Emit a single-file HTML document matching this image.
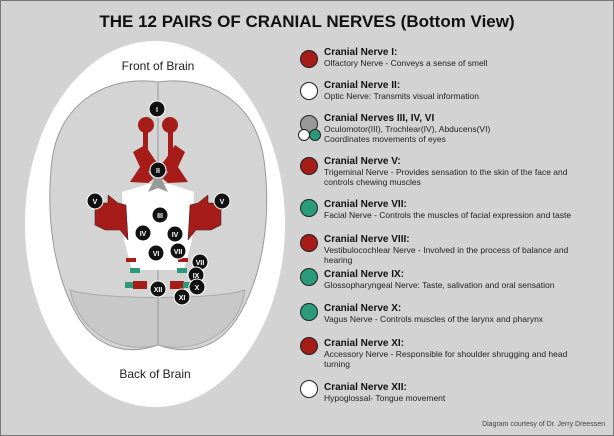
<!DOCTYPE html><html><head><style>
body{margin:0;width:614px;height:436px;overflow:hidden;background:#d3d3d3;font-family:"Liberation Sans",sans-serif}
.f{position:absolute;left:0;top:0;width:612px;height:434px;border:1px solid #777;box-sizing:content-box}
.t{position:absolute;left:0;width:614px;top:12px;text-align:center;font-weight:bold;font-size:17px;color:#111}
.it{position:absolute;left:324px;font-size:8.5px;color:#222;line-height:10px;white-space:nowrap}
.it b{font-size:10px;color:#111;display:block;line-height:11px}
.c{position:absolute;width:18px;height:18px;border-radius:50%;border:1px solid #222;box-sizing:border-box}
.r{background:#a51c18}.w{background:#fff}.g{background:#2a9a7b}
</style></head><body><div class="f"></div>
<div class="t">THE 12 PAIRS OF CRANIAL NERVES (Bottom View)</div>
<svg style="position:absolute;left:0;top:0" width="614" height="436" font-family="Liberation Sans" >
<ellipse cx="155" cy="224" rx="130" ry="183" fill="#fff"/>
<path d="M158 82 C110 75 60 100 52 160 C45 220 55 280 80 320 C100 350 130 355 158 345 C186 355 216 350 236 320 C262 280 272 220 264 160 C256 100 206 75 158 82Z" fill="#d4d4d4" stroke="#999"/>
<path d="M70 290 C100 300 215 300 245 290 C240 330 200 355 158 345 C116 355 78 330 70 290Z" fill="#c8c8c8" stroke="#aaa"/>
<line x1="158" y1="82" x2="158" y2="345" stroke="#999"/>
<path d="M122 192 L148 184 L170 184 L194 192 L192 240 L184 270 L132 270 L124 240 Z" fill="#fff"/>
<path d="M145 145 L155 160 L160 165 L165 160 L175 145 L185 152 L178 167 L188 182 L168 183 L158 175 L148 183 L130 182 L140 167 L133 152Z" fill="#a51c18"/>
<path d="M148 172 L158 162 L168 172 L162 180 L168 192 L158 188 L148 192 L154 180Z" fill="#999"/>
<circle cx="146" cy="125" r="8" fill="#a51c18"/><circle cx="170" cy="125" r="8" fill="#a51c18"/>
<rect x="143" y="125" width="5" height="45" fill="#a51c18"/><rect x="168" y="125" width="5" height="45" fill="#a51c18"/>
<path d="M95 203 L108 203 L108 195 L118 203 L126 205 L128 240 L120 230 L105 230 L95 225Z" fill="#a51c18" stroke="#222" stroke-width=".5"/>
<path d="M221 203 L208 203 L208 195 L198 203 L190 205 L188 240 L196 230 L211 230 L221 225Z" fill="#a51c18" stroke="#222" stroke-width=".5"/>
<rect x="125" y="282" width="10" height="6" fill="#2a9a7b"/><rect x="133" y="281" width="14" height="8" fill="#a51c18"/>
<rect x="170" y="281" width="14" height="8" fill="#a51c18"/><rect x="183" y="282" width="10" height="6" fill="#2a9a7b"/>
<rect x="130" y="268" width="10" height="5" fill="#2a9a7b"/><rect x="177" y="268" width="10" height="5" fill="#2a9a7b"/>
<rect x="126" y="258" width="10" height="4" fill="#a51c18"/><rect x="178" y="258" width="10" height="4" fill="#a51c18"/>
<g fill="#111" stroke="#fff" stroke-width="1"><circle cx="157" cy="109" r="8"/><circle cx="158" cy="170" r="8"/><circle cx="95" cy="201" r="8"/><circle cx="222" cy="201" r="8"/><circle cx="160" cy="215" r="8"/><circle cx="143" cy="233" r="8"/><circle cx="175" cy="234" r="8"/><circle cx="156" cy="253" r="8"/><circle cx="178" cy="251" r="8"/><circle cx="200" cy="262" r="8"/><circle cx="196" cy="275" r="8"/><circle cx="197" cy="287" r="8"/><circle cx="182" cy="297" r="8"/><circle cx="158" cy="289" r="8"/></g>
<g fill="#fff" font-size="7" font-weight="bold" text-anchor="middle"><text x="157" y="112">I</text><text x="158" y="173">II</text><text x="95" y="204">V</text><text x="222" y="204">V</text><text x="160" y="218">III</text><text x="143" y="236">IV</text><text x="175" y="237">IV</text><text x="156" y="256">VI</text><text x="178" y="254">VII</text><text x="200" y="265">VII</text><text x="196" y="278">IX</text><text x="197" y="290">X</text><text x="182" y="300">XI</text><text x="158" y="292">XII</text></g>
<text x="158" y="70" font-size="12" text-anchor="middle" fill="#222">Front of Brain</text>
<text x="155" y="378" font-size="12" text-anchor="middle" fill="#222">Back of Brain</text>
<text x="605" y="426" font-size="7" text-anchor="end" fill="#444">Diagram courtesy of Dr. Jerry Dreessen</text>
</svg>
<div class="c r" style="left:300px;top:50px"></div>
<div class="c w" style="left:300px;top:82px"></div>
<div class="c" style="left:300px;top:115px;background:#999"></div>
<div class="c w" style="left:298px;top:129px;width:12px;height:12px"></div>
<div class="c g" style="left:309px;top:129px;width:12px;height:12px"></div>
<div class="c r" style="left:300px;top:157px"></div>
<div class="c g" style="left:300px;top:199px"></div>
<div class="c r" style="left:300px;top:234px"></div>
<div class="c g" style="left:300px;top:268px"></div>
<div class="c g" style="left:300px;top:303px"></div>
<div class="c r" style="left:300px;top:337px"></div>
<div class="c w" style="left:300px;top:380px"></div>
<div class="it" style="top:47px"><b>Cranial Nerve I:</b>Olfactory Nerve - Conveys a sense of smell</div>
<div class="it" style="top:80px"><b>Cranial Nerve II:</b>Optic Nerve: Transmits visual information</div>
<div class="it" style="top:113px"><b>Cranial Nerves III, IV, VI</b>Oculomotor(III), Trochlear(IV), Abducens(VI)<br>Coordinates movements of eyes</div>
<div class="it" style="top:156px"><b>Cranial Nerve V:</b>Trigeminal Nerve - Provides sensation to the skin of the face and<br>controls chewing muscles</div>
<div class="it" style="top:199px"><b>Cranial Nerve VII:</b>Facial Nerve - Controls the muscles of facial expression and taste</div>
<div class="it" style="top:234px"><b>Cranial Nerve VIII:</b>Vestibulocochlear Nerve - Involved in the process of balance and<br>hearing</div>
<div class="it" style="top:269px"><b>Cranial Nerve IX:</b>Glossopharyngeal Nerve: Taste, salivation and oral sensation</div>
<div class="it" style="top:303px"><b>Cranial Nerve X:</b>Vagus Nerve - Controls muscles of the larynx and pharynx</div>
<div class="it" style="top:338px"><b>Cranial Nerve XI:</b>Accessory Nerve - Responsible for shoulder shrugging and head<br>turning</div>
<div class="it" style="top:382px"><b>Cranial Nerve XII:</b>Hypoglossal- Tongue movement</div>
</body></html>
